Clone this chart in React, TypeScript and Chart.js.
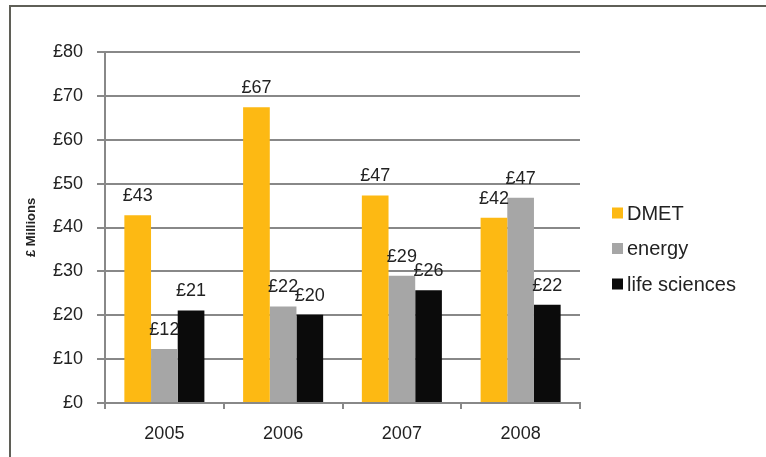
import React, { useEffect, useRef } from "react";
import { Chart, registerables } from "chart.js";

Chart.register(...registerables);

const years = ["2005", "2006", "2007", "2008"];
const dmet = [42.8, 67.4, 47.3, 42.2];
const energy = [12.3, 22.0, 29.0, 46.8];
const lifeSciences = [21.1, 20.1, 25.7, 22.4];
const seriesNames = ["DMET", "energy", "life sciences"];
const seriesColors = ["#FDB913", "#A6A6A6", "#0B0B0B"];
const yMin = 0;
const yMax = 80;
const yStep = 10;
const yTitle = "£ Millions";

const FONT = "'Liberation Sans', Arial, sans-serif";

const framePlugin = {
  id: "frame",
  beforeDraw(chart: any) {
    const { ctx, width, height } = chart;
    ctx.save();
    ctx.fillStyle = "#ffffff";
    ctx.fillRect(0, 0, width, height);
    ctx.strokeStyle = "#5f5f57";
    ctx.lineWidth = 2;
    ctx.beginPath();
    ctx.moveTo(10, height);
    ctx.lineTo(10, 6);
    ctx.lineTo(width, 6);
    ctx.stroke();
    ctx.restore();
  },
};

const valueLabelPlugin = {
  id: "valueLabels",
  afterDatasetsDraw(chart: any) {
    const { ctx } = chart;
    ctx.save();
    ctx.font = `18px ${FONT}`;
    ctx.fillStyle = "#222222";
    ctx.textAlign = "center";
    ctx.textBaseline = "middle";
    chart.data.datasets.forEach((ds: any, i: number) => {
      const meta = chart.getDatasetMeta(i);
      meta.data.forEach((el: any, j: number) => {
        const v = ds.data[j];
        ctx.fillText("£" + Math.round(v), el.x, el.y - 19);
      });
    });
    ctx.restore();
  },
};

const legendPlugin = {
  id: "sideLegend",
  afterDraw(chart: any) {
    const { ctx, chartArea } = chart;
    ctx.save();
    ctx.font = `20px ${FONT}`;
    ctx.textBaseline = "middle";
    ctx.textAlign = "left";
    const x0 = chartArea.right + 32;
    const y0 = 213;
    const rowGap = 35.5;
    chart.data.datasets.forEach((ds: any, i: number) => {
      const y = y0 + i * rowGap;
      ctx.fillStyle = ds.backgroundColor;
      ctx.fillRect(x0, y - 5.5, 11, 11);
      ctx.fillStyle = "#222222";
      ctx.fillText(ds.label, x0 + 15, y + 1);
    });
    ctx.restore();
  },
};

export default function App() {
  const ref = useRef<HTMLCanvasElement | null>(null);

  useEffect(() => {
    if (!ref.current) return;
    const seriesData = [dmet, energy, lifeSciences];
    const chart = new Chart(ref.current, {
      type: "bar",
      data: {
        labels: years,
        datasets: seriesNames.map((name, i) => ({
          label: name,
          data: seriesData[i],
          backgroundColor: seriesColors[i],
          borderWidth: 0,
          categoryPercentage: 0.674,
          barPercentage: 1.0,
        })),
      },
      options: {
        responsive: false,
        animation: false,
        devicePixelRatio: 1,
        layout: { padding: { left: 20, top: 52, right: 186, bottom: 0 } },
        plugins: {
          legend: { display: false },
          tooltip: { enabled: false },
        },
        scales: {
          x: {
            grid: {
              display: true,
              drawOnChartArea: false,
              drawTicks: true,
              tickLength: 6,
              color: "#888888",
              lineWidth: 2,
              offset: true,
            },
            border: { display: true, color: "#888888", width: 2 },
            ticks: {
              font: { family: FONT, size: 18 },
              color: "#222222",
              padding: 14,
            },
            afterFit(scale: any) {
              scale.height = 54;
            },
          },
          y: {
            min: yMin,
            max: yMax,
            grid: {
              color: "#888888",
              lineWidth: 2,
              tickLength: 8,
              drawTicks: true,
            },
            border: { display: true, color: "#888888", width: 2 },
            ticks: {
              stepSize: yStep,
              font: { family: FONT, size: 18 },
              color: "#222222",
              padding: 14,
              callback: (v: any) => "£" + v,
            },
            title: {
              display: true,
              text: yTitle,
              font: { family: FONT, size: 13, weight: "bold" },
              color: "#222222",
            },
            afterFit(scale: any) {
              scale.width = 85;
            },
          },
        },
      },
      plugins: [framePlugin, valueLabelPlugin, legendPlugin],
    });
    return () => chart.destroy();
  }, []);

  return (
    <div style={{ position: "absolute", left: 0, top: 0, width: 766, height: 457 }}>
      <canvas ref={ref} width={766} height={457} style={{ display: "block" }} />
    </div>
  );
}
